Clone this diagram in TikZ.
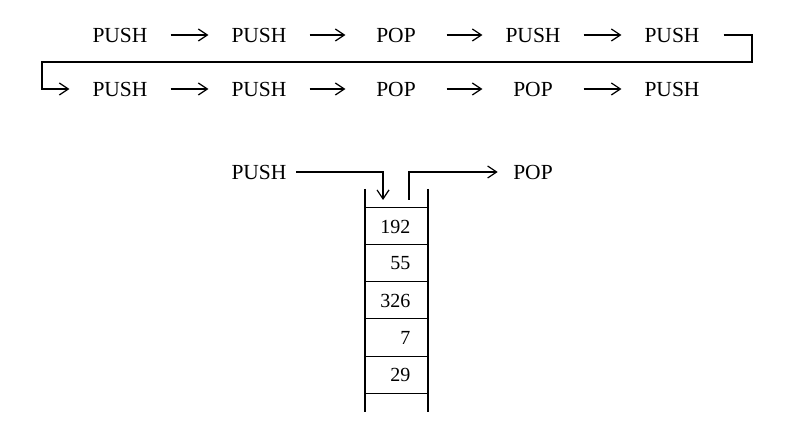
\documentclass[tikz,border=0pt]{standalone}
\usepackage{fontspec}
\setmainfont{Liberation Serif}
\usepackage{tikz}
\usetikzlibrary{arrows.meta,positioning}
\tikzset{
  word/.style={font=\fontsize{21.5}{25}\selectfont, inner sep=0pt, minimum width=100pt},
  lab/.style={font=\fontsize{21.5}{25}\selectfont, inner sep=0pt},
  num/.style={font=\fontsize{20}{24}\selectfont, inner sep=0pt, anchor=east},
  flow/.style={-{Straight Barb[length=9pt,width=12pt]}},
}
\begin{document}
\begin{tikzpicture}[x=1pt,y=-1pt,line width=1.2pt]
\useasboundingbox (0,0) rectangle (800,435);
% first sequence
\node[word] (a1) at (120,35) {PUSH};
\node[word] (a2) at (259,35) {PUSH};
\node[word] (a3) at (396,35) {POP};
\node[word] (a4) at (533,35) {PUSH};
\node[word] (a5) at (672,35) {PUSH};
% continued
\node[word] (b1) at (120,89) {PUSH};
\node[word] (b2) at (259,89) {PUSH};
\node[word] (b3) at (396,89) {POP};
\node[word] (b4) at (533,89) {POP};
\node[word] (b5) at (672,89) {PUSH};
\coordinate (turnR) at (752,62);
\coordinate (turnL) at (42,62);
\path[flow]
(a1) edge (a2)
(a2) edge (a3)
(a3) edge (a4)
(a4) edge (a5)
(b1) edge (b2)
(b2) edge (b3)
(b3) edge (b4)
(b4) edge (b5);
\draw[flow] ([xshift=1pt]a5.east) -| (turnR) -- (turnL) |- (b1.west);
% stack
\node[lab] (pin) at (259,172) {PUSH};
\node[lab] (pout) at (533,172) {POP};
\coordinate (drop) at (383,200);
\coordinate (lift) at (409,200);
\draw[flow,shorten <=9pt] (pin) -| (drop);
\draw[flow,shorten >=15pt] (lift) |- (pout);
\draw (365,189) -- (365,412) (428,189) -- (428,412);
\draw[line width=1pt] (365,208) -- (428,208) (365,245) -- (428,245)
  (365,282) -- (428,282) (365,319) -- (428,319)
  (365,356) -- (428,356) (365,393) -- (428,393);
\node[num] (c1) at (411,226.5) {192};
\node[num] (c2) at (411,263.5) {55};
\node[num] (c3) at (411,300.5) {326};
\node[num] (c4) at (411,337.5) {7};
\node[num] (c5) at (411,374.5) {29};
\end{tikzpicture}
\end{document}
